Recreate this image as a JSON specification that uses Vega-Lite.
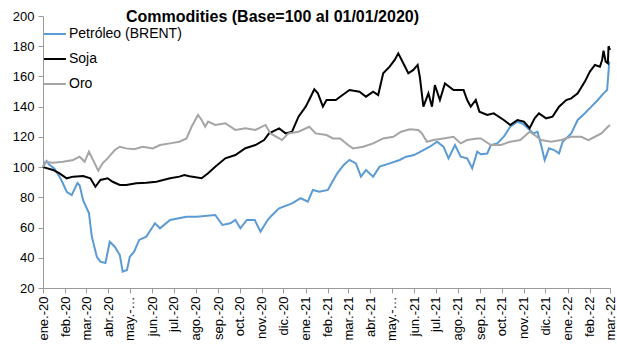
{
  "$schema": "https://vega.github.io/schema/vega-lite/v6.json",
  "autosize": {"type": "none"},
  "padding": {"left": 43, "top": 16, "right": 7, "bottom": 64},
  "width": 567,
  "height": 272,
  "background": "white",
  "config": {
    "font": "Liberation Sans",
    "view": {"stroke": null},
    "axis": {"labelFont": "Liberation Sans", "labelColor": "#000000", "labelFontSize": 13, "domainColor": "#9a9a9a", "tickColor": "#9a9a9a", "tickSize": 5, "grid": false, "title": null}
  },
  "title": {"text": "Commodities (Base=100 al 01/01/2020)", "font": "Liberation Sans", "fontSize": 16, "fontWeight": "bold", "color": "#000000", "anchor": "middle", "dx": -54, "offset": 0, "dy": 28, "baseline": "alphabetic"},
  "data": {"values": [
    {"d":"2020-01-01","s":"Petróleo (BRENT)","v":100},{"d":"2020-01-06","s":"Petróleo (BRENT)","v":104},{"d":"2020-01-10","s":"Petróleo (BRENT)","v":101.5},{"d":"2020-01-17","s":"Petróleo (BRENT)","v":99},{"d":"2020-01-24","s":"Petróleo (BRENT)","v":93.6},{"d":"2020-01-28","s":"Petróleo (BRENT)","v":90},{"d":"2020-02-03","s":"Petróleo (BRENT)","v":83.7},{"d":"2020-02-10","s":"Petróleo (BRENT)","v":81.5},{"d":"2020-02-18","s":"Petróleo (BRENT)","v":89.5},{"d":"2020-02-21","s":"Petróleo (BRENT)","v":88},{"d":"2020-02-26","s":"Petróleo (BRENT)","v":78},{"d":"2020-03-05","s":"Petróleo (BRENT)","v":69.6},{"d":"2020-03-09","s":"Petróleo (BRENT)","v":54},{"d":"2020-03-16","s":"Petróleo (BRENT)","v":40.7},{"d":"2020-03-21","s":"Petróleo (BRENT)","v":37.4},{"d":"2020-03-28","s":"Petróleo (BRENT)","v":36.5},{"d":"2020-04-03","s":"Petróleo (BRENT)","v":50.6},{"d":"2020-04-10","s":"Petróleo (BRENT)","v":47.3},{"d":"2020-04-17","s":"Petróleo (BRENT)","v":41.8},{"d":"2020-04-21","s":"Petróleo (BRENT)","v":30.8},{"d":"2020-04-27","s":"Petróleo (BRENT)","v":31.9},{"d":"2020-05-01","s":"Petróleo (BRENT)","v":40.7},{"d":"2020-05-07","s":"Petróleo (BRENT)","v":44},{"d":"2020-05-14","s":"Petróleo (BRENT)","v":51.8},{"d":"2020-05-24","s":"Petróleo (BRENT)","v":54},{"d":"2020-06-05","s":"Petróleo (BRENT)","v":62.8},{"d":"2020-06-12","s":"Petróleo (BRENT)","v":59.5},{"d":"2020-06-26","s":"Petróleo (BRENT)","v":65},{"d":"2020-07-19","s":"Petróleo (BRENT)","v":67.2},{"d":"2020-08-02","s":"Petróleo (BRENT)","v":67.2},{"d":"2020-08-28","s":"Petróleo (BRENT)","v":68.3},{"d":"2020-09-07","s":"Petróleo (BRENT)","v":61.7},{"d":"2020-09-18","s":"Petróleo (BRENT)","v":62.8},{"d":"2020-09-25","s":"Petróleo (BRENT)","v":65},{"d":"2020-10-02","s":"Petróleo (BRENT)","v":59.5},{"d":"2020-10-11","s":"Petróleo (BRENT)","v":65},{"d":"2020-10-22","s":"Petróleo (BRENT)","v":65},{"d":"2020-10-30","s":"Petróleo (BRENT)","v":57.3},{"d":"2020-11-09","s":"Petróleo (BRENT)","v":65},{"d":"2020-11-13","s":"Petróleo (BRENT)","v":67.2},{"d":"2020-11-25","s":"Petróleo (BRENT)","v":72.7},{"d":"2020-12-13","s":"Petróleo (BRENT)","v":76},{"d":"2020-12-25","s":"Petróleo (BRENT)","v":79.4},{"d":"2021-01-04","s":"Petróleo (BRENT)","v":77.1},{"d":"2021-01-11","s":"Petróleo (BRENT)","v":84.9},{"d":"2021-01-20","s":"Petróleo (BRENT)","v":83.7},{"d":"2021-02-01","s":"Petróleo (BRENT)","v":84.9},{"d":"2021-02-06","s":"Petróleo (BRENT)","v":89.3},{"d":"2021-02-14","s":"Petróleo (BRENT)","v":95.9},{"d":"2021-02-23","s":"Petróleo (BRENT)","v":101.4},{"d":"2021-03-03","s":"Petróleo (BRENT)","v":104.8},{"d":"2021-03-12","s":"Petróleo (BRENT)","v":102.5},{"d":"2021-03-19","s":"Petróleo (BRENT)","v":93.7},{"d":"2021-03-26","s":"Petróleo (BRENT)","v":98.1},{"d":"2021-04-05","s":"Petróleo (BRENT)","v":93.7},{"d":"2021-04-14","s":"Petróleo (BRENT)","v":100.3},{"d":"2021-04-28","s":"Petróleo (BRENT)","v":102.5},{"d":"2021-05-12","s":"Petróleo (BRENT)","v":104.7},{"d":"2021-05-21","s":"Petróleo (BRENT)","v":106.9},{"d":"2021-06-01","s":"Petróleo (BRENT)","v":108},{"d":"2021-06-14","s":"Petróleo (BRENT)","v":111.3},{"d":"2021-06-23","s":"Petróleo (BRENT)","v":113.5},{"d":"2021-07-03","s":"Petróleo (BRENT)","v":116.8},{"d":"2021-07-12","s":"Petróleo (BRENT)","v":113.5},{"d":"2021-07-19","s":"Petróleo (BRENT)","v":105.8},{"d":"2021-07-28","s":"Petróleo (BRENT)","v":114.6},{"d":"2021-08-05","s":"Petróleo (BRENT)","v":106.9},{"d":"2021-08-14","s":"Petróleo (BRENT)","v":105.8},{"d":"2021-08-21","s":"Petróleo (BRENT)","v":99.2},{"d":"2021-08-28","s":"Petróleo (BRENT)","v":110.2},{"d":"2021-09-02","s":"Petróleo (BRENT)","v":108.5},{"d":"2021-09-11","s":"Petróleo (BRENT)","v":109},{"d":"2021-09-16","s":"Petróleo (BRENT)","v":114.6},{"d":"2021-09-25","s":"Petróleo (BRENT)","v":115.7},{"d":"2021-10-04","s":"Petróleo (BRENT)","v":120.1},{"d":"2021-10-13","s":"Petróleo (BRENT)","v":126.7},{"d":"2021-10-23","s":"Petróleo (BRENT)","v":130},{"d":"2021-10-30","s":"Petróleo (BRENT)","v":128.9},{"d":"2021-11-07","s":"Petróleo (BRENT)","v":125.6},{"d":"2021-11-14","s":"Petróleo (BRENT)","v":122.3},{"d":"2021-11-20","s":"Petróleo (BRENT)","v":123.4},{"d":"2021-11-25","s":"Petróleo (BRENT)","v":114.6},{"d":"2021-11-30","s":"Petróleo (BRENT)","v":104.7},{"d":"2021-12-06","s":"Petróleo (BRENT)","v":112.4},{"d":"2021-12-13","s":"Petróleo (BRENT)","v":111.3},{"d":"2021-12-20","s":"Petróleo (BRENT)","v":109.1},{"d":"2021-12-25","s":"Petróleo (BRENT)","v":116.8},{"d":"2022-01-06","s":"Petróleo (BRENT)","v":122.3},{"d":"2022-01-15","s":"Petróleo (BRENT)","v":131.2},{"d":"2022-01-25","s":"Petróleo (BRENT)","v":135.6},{"d":"2022-02-03","s":"Petróleo (BRENT)","v":140},{"d":"2022-02-12","s":"Petróleo (BRENT)","v":144.4},{"d":"2022-02-20","s":"Petróleo (BRENT)","v":148.8},{"d":"2022-02-25","s":"Petróleo (BRENT)","v":151},{"d":"2022-02-28","s":"Petróleo (BRENT)","v":170},
    {"d":"2020-01-01","s":"Soja","v":100},{"d":"2020-01-15","s":"Soja","v":98.1},{"d":"2020-01-24","s":"Soja","v":95.9},{"d":"2020-02-03","s":"Soja","v":92.6},{"d":"2020-02-12","s":"Soja","v":93.7},{"d":"2020-02-26","s":"Soja","v":94.1},{"d":"2020-03-07","s":"Soja","v":92.6},{"d":"2020-03-14","s":"Soja","v":87},{"d":"2020-03-21","s":"Soja","v":91.5},{"d":"2020-03-31","s":"Soja","v":92.6},{"d":"2020-04-07","s":"Soja","v":90.3},{"d":"2020-04-17","s":"Soja","v":88.2},{"d":"2020-04-26","s":"Soja","v":88.2},{"d":"2020-05-10","s":"Soja","v":89.3},{"d":"2020-05-24","s":"Soja","v":89.7},{"d":"2020-06-07","s":"Soja","v":90.3},{"d":"2020-06-26","s":"Soja","v":92.6},{"d":"2020-07-09","s":"Soja","v":93.7},{"d":"2020-07-16","s":"Soja","v":94.8},{"d":"2020-07-23","s":"Soja","v":94},{"d":"2020-08-09","s":"Soja","v":92.6},{"d":"2020-08-18","s":"Soja","v":95.9},{"d":"2020-08-28","s":"Soja","v":100.3},{"d":"2020-09-11","s":"Soja","v":105.8},{"d":"2020-09-25","s":"Soja","v":108},{"d":"2020-10-09","s":"Soja","v":112.5},{"d":"2020-10-23","s":"Soja","v":114.6},{"d":"2020-11-04","s":"Soja","v":117.9},{"d":"2020-11-11","s":"Soja","v":122.3},{"d":"2020-11-25","s":"Soja","v":125.6},{"d":"2020-12-04","s":"Soja","v":122.3},{"d":"2020-12-13","s":"Soja","v":123.4},{"d":"2020-12-22","s":"Soja","v":133.4},{"d":"2021-01-01","s":"Soja","v":140},{"d":"2021-01-08","s":"Soja","v":146.6},{"d":"2021-01-13","s":"Soja","v":151.5},{"d":"2021-01-18","s":"Soja","v":148.8},{"d":"2021-01-25","s":"Soja","v":140},{"d":"2021-01-30","s":"Soja","v":144.4},{"d":"2021-02-12","s":"Soja","v":144.4},{"d":"2021-02-18","s":"Soja","v":146.6},{"d":"2021-03-03","s":"Soja","v":151},{"d":"2021-03-17","s":"Soja","v":149.9},{"d":"2021-03-26","s":"Soja","v":146.6},{"d":"2021-04-05","s":"Soja","v":149.9},{"d":"2021-04-12","s":"Soja","v":147.7},{"d":"2021-04-19","s":"Soja","v":162.1},{"d":"2021-04-28","s":"Soja","v":166.5},{"d":"2021-05-05","s":"Soja","v":170.9},{"d":"2021-05-10","s":"Soja","v":175.3},{"d":"2021-05-17","s":"Soja","v":168.7},{"d":"2021-05-24","s":"Soja","v":162.1},{"d":"2021-05-31","s":"Soja","v":164.3},{"d":"2021-06-06","s":"Soja","v":167.6},{"d":"2021-06-09","s":"Soja","v":159.8},{"d":"2021-06-14","s":"Soja","v":140},{"d":"2021-06-21","s":"Soja","v":148.8},{"d":"2021-06-26","s":"Soja","v":140},{"d":"2021-06-30","s":"Soja","v":154.3},{"d":"2021-07-07","s":"Soja","v":144.4},{"d":"2021-07-14","s":"Soja","v":155.4},{"d":"2021-07-26","s":"Soja","v":151},{"d":"2021-08-09","s":"Soja","v":151},{"d":"2021-08-14","s":"Soja","v":144.4},{"d":"2021-08-19","s":"Soja","v":140},{"d":"2021-08-26","s":"Soja","v":144.4},{"d":"2021-08-31","s":"Soja","v":136.7},{"d":"2021-09-11","s":"Soja","v":134.5},{"d":"2021-09-20","s":"Soja","v":135.6},{"d":"2021-10-04","s":"Soja","v":131.2},{"d":"2021-10-13","s":"Soja","v":127.9},{"d":"2021-10-23","s":"Soja","v":131.2},{"d":"2021-11-01","s":"Soja","v":130.1},{"d":"2021-11-09","s":"Soja","v":125.7},{"d":"2021-11-16","s":"Soja","v":132.3},{"d":"2021-11-22","s":"Soja","v":135.6},{"d":"2021-12-02","s":"Soja","v":132.3},{"d":"2021-12-11","s":"Soja","v":133.4},{"d":"2021-12-20","s":"Soja","v":140},{"d":"2021-12-30","s":"Soja","v":144.4},{"d":"2022-01-06","s":"Soja","v":145.5},{"d":"2022-01-15","s":"Soja","v":148.8},{"d":"2022-01-25","s":"Soja","v":156.6},{"d":"2022-02-01","s":"Soja","v":163.2},{"d":"2022-02-08","s":"Soja","v":167.6},{"d":"2022-02-15","s":"Soja","v":166.5},{"d":"2022-02-18","s":"Soja","v":170.9},{"d":"2022-02-20","s":"Soja","v":177},{"d":"2022-02-23","s":"Soja","v":169.8},{"d":"2022-02-26","s":"Soja","v":168.7},{"d":"2022-02-27","s":"Soja","v":180},{"d":"2022-03-01","s":"Soja","v":177.5},
    {"d":"2020-01-01","s":"Oro","v":100},{"d":"2020-01-04","s":"Oro","v":103.5},{"d":"2020-01-15","s":"Oro","v":102.9},{"d":"2020-01-29","s":"Oro","v":103.5},{"d":"2020-02-12","s":"Oro","v":104.7},{"d":"2020-02-21","s":"Oro","v":106.9},{"d":"2020-02-28","s":"Oro","v":103.5},{"d":"2020-03-05","s":"Oro","v":110.2},{"d":"2020-03-12","s":"Oro","v":103.5},{"d":"2020-03-18","s":"Oro","v":97.6},{"d":"2020-03-24","s":"Oro","v":102.5},{"d":"2020-03-31","s":"Oro","v":105.8},{"d":"2020-04-10","s":"Oro","v":111.3},{"d":"2020-04-17","s":"Oro","v":113.5},{"d":"2020-04-26","s":"Oro","v":112.4},{"d":"2020-05-07","s":"Oro","v":111.8},{"d":"2020-05-19","s":"Oro","v":113.5},{"d":"2020-06-02","s":"Oro","v":112.4},{"d":"2020-06-12","s":"Oro","v":114.6},{"d":"2020-06-26","s":"Oro","v":115.7},{"d":"2020-07-09","s":"Oro","v":116.8},{"d":"2020-07-19","s":"Oro","v":119},{"d":"2020-07-26","s":"Oro","v":126.7},{"d":"2020-08-04","s":"Oro","v":134.5},{"d":"2020-08-09","s":"Oro","v":131.2},{"d":"2020-08-14","s":"Oro","v":126.7},{"d":"2020-08-18","s":"Oro","v":130.1},{"d":"2020-08-28","s":"Oro","v":127.9},{"d":"2020-09-11","s":"Oro","v":129},{"d":"2020-09-25","s":"Oro","v":124.6},{"d":"2020-10-09","s":"Oro","v":125.7},{"d":"2020-10-23","s":"Oro","v":124.6},{"d":"2020-11-06","s":"Oro","v":127.9},{"d":"2020-11-13","s":"Oro","v":122.3},{"d":"2020-11-29","s":"Oro","v":117.9},{"d":"2020-12-08","s":"Oro","v":122.3},{"d":"2020-12-22","s":"Oro","v":123.4},{"d":"2021-01-06","s":"Oro","v":126.7},{"d":"2021-01-15","s":"Oro","v":122.3},{"d":"2021-01-30","s":"Oro","v":121.2},{"d":"2021-02-08","s":"Oro","v":119},{"d":"2021-02-18","s":"Oro","v":119},{"d":"2021-03-01","s":"Oro","v":114.6},{"d":"2021-03-08","s":"Oro","v":112.4},{"d":"2021-03-22","s":"Oro","v":113.5},{"d":"2021-04-05","s":"Oro","v":115.7},{"d":"2021-04-19","s":"Oro","v":119},{"d":"2021-05-03","s":"Oro","v":120.1},{"d":"2021-05-14","s":"Oro","v":123.4},{"d":"2021-05-26","s":"Oro","v":125},{"d":"2021-06-07","s":"Oro","v":124.6},{"d":"2021-06-12","s":"Oro","v":122.3},{"d":"2021-06-19","s":"Oro","v":116.8},{"d":"2021-06-28","s":"Oro","v":117.9},{"d":"2021-07-12","s":"Oro","v":119},{"d":"2021-07-26","s":"Oro","v":120.1},{"d":"2021-08-05","s":"Oro","v":115.7},{"d":"2021-08-14","s":"Oro","v":117.9},{"d":"2021-08-28","s":"Oro","v":119},{"d":"2021-09-02","s":"Oro","v":119},{"d":"2021-09-16","s":"Oro","v":114.6},{"d":"2021-09-30","s":"Oro","v":114.6},{"d":"2021-10-13","s":"Oro","v":116.8},{"d":"2021-10-27","s":"Oro","v":117.9},{"d":"2021-11-09","s":"Oro","v":123.4},{"d":"2021-11-16","s":"Oro","v":121.2},{"d":"2021-11-25","s":"Oro","v":117.9},{"d":"2021-12-09","s":"Oro","v":116.8},{"d":"2021-12-23","s":"Oro","v":117.9},{"d":"2022-01-06","s":"Oro","v":120.1},{"d":"2022-01-20","s":"Oro","v":120.1},{"d":"2022-01-30","s":"Oro","v":117.9},{"d":"2022-02-08","s":"Oro","v":120.1},{"d":"2022-02-17","s":"Oro","v":122.3},{"d":"2022-02-26","s":"Oro","v":126.7},{"d":"2022-03-01","s":"Oro","v":127.9}
  ]},
  "mark": {"type": "line", "strokeWidth": 2, "interpolate": "linear"},
  "encoding": {
    "x": {
      "field": "d", "type": "temporal",
      "scale": {"type": "utc", "domain": [{"year": 2020, "month": 1, "date": 1, "utc": true}, {"year": 2022, "month": 3, "date": 1, "utc": true}], "nice": false},
      "axis": {
        "tickCount": {"interval": "month", "step": 1},
        "labelAngle": -90, "labelAlign": "right", "labelBaseline": "middle", "labelPadding": 3, "labelOverlap": false, "labelFlush": false, "labelBound": false,
        "labelExpr": "utcmonth(datum.value) == 4 ? 'may.-…' : ['ene.','feb.','mar.','abr.','may.','jun.','jul.','ago.','sep.','oct.','nov.','dic.'][utcmonth(datum.value)] + '-' + utcFormat(datum.value, '%y')"
      }
    },
    "y": {
      "field": "v", "type": "quantitative",
      "scale": {"domain": [20, 200], "nice": false, "zero": false},
      "axis": {"values": [20, 40, 60, 80, 100, 120, 140, 160, 180, 200], "labelPadding": 4}
    },
    "color": {
      "field": "s", "type": "nominal",
      "scale": {"domain": ["Petróleo (BRENT)", "Soja", "Oro"], "range": ["#5B9BD5", "#000000", "#A5A5A5"]},
      "legend": {"title": null, "orient": "none", "legendX": 0, "legendY": 6, "direction": "vertical", "symbolType": "stroke", "symbolSize": 480, "symbolStrokeWidth": 2, "labelFontSize": 14, "labelFont": "Liberation Sans", "labelColor": "#000000", "rowPadding": 6, "labelOffset": 2}
    },
    "order": {"field": "d", "type": "temporal"}
  }
}
